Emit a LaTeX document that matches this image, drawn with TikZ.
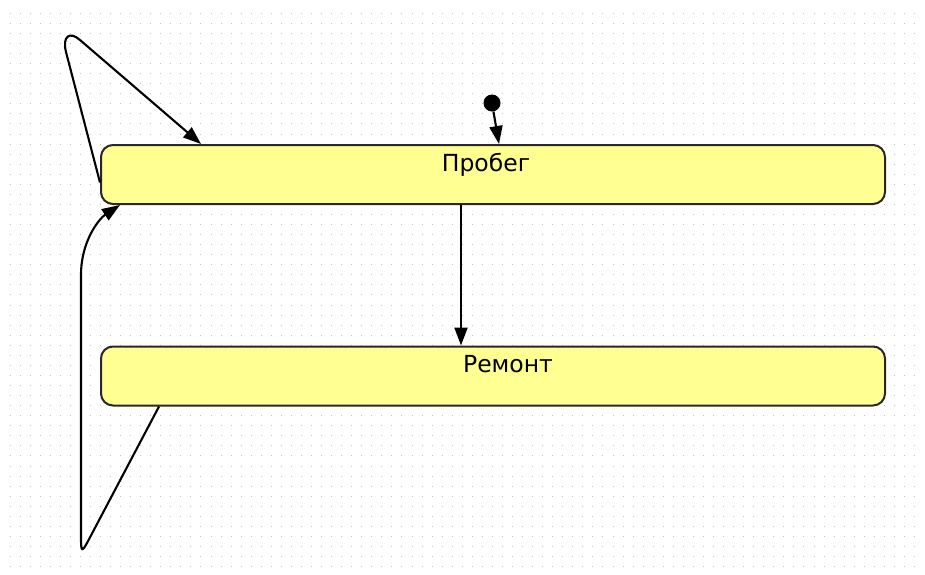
\documentclass[tikz,border=0pt]{standalone}
\usepackage{fontspec}
\newfontfamily\lblfont{DejaVu Sans}
\usetikzlibrary{arrows.meta}
\definecolor{stfill}{RGB}{255,255,128}
\definecolor{stdraw}{RGB}{40,40,40}
\definecolor{dotc}{RGB}{195,195,195}
\tikzset{
  statebox/.style={draw=stdraw, line width=2pt, fill=stfill, fill opacity=0.85, rounded corners=12pt,
    minimum width=784pt, minimum height=59pt, inner sep=0pt},
  stlabel/.style={font=\lblfont\fontsize{23.5}{28}\selectfont, inner sep=0pt, anchor=base},
  conn/.style={line width=2.1pt, -{Triangle[length=18pt,width=13pt]}},
  initdot/.style={circle, fill=black, inner sep=0pt, minimum size=17pt}
}
\begin{document}
\begin{tikzpicture}[x=1pt,y=-1pt]
\useasboundingbox (0,0) rectangle (925,574);
\fill[white] (0,0) rectangle (925,574);
% grid dots
\foreach \i in {0,...,90} {
  \foreach \j in {0,...,55} {
    \fill[dotc] ({10+\i*10.05-0.5},{13.3+\j*10.06-0.5}) rectangle ++(1,1);
  }
}
% states
\node[statebox] (run) at (493,174.5) {};
\node[statebox] (rep) at (493,376) {};
\node[stlabel] (runl) at (486,171.5) {Пробег};
\node[stlabel] (repl) at (508,372.5) {Ремонт};
% initial
\node[initdot] (init) at (492,103) {};
\draw[conn] (init) -- ([xshift=399pt]run.north west);
% run -> rep
\draw[conn] ([xshift=361pt]run.south west) -- ([xshift=361pt]rep.north west);
% self loop on run
\draw[conn] ([yshift=-8pt]run.west) -- (66,52) .. controls (62,36) and (70,31) .. (80,40) -- ([xshift=101pt]run.north west);
% rep -> run
\draw[conn] ([xshift=59pt]rep.south west) -- (87,543) .. controls (82,552) and (81,552) .. (81,538) -- (81,275) .. controls (81,240) and (100,218) .. ([xshift=20pt]run.south west);
\end{tikzpicture}
\end{document}
